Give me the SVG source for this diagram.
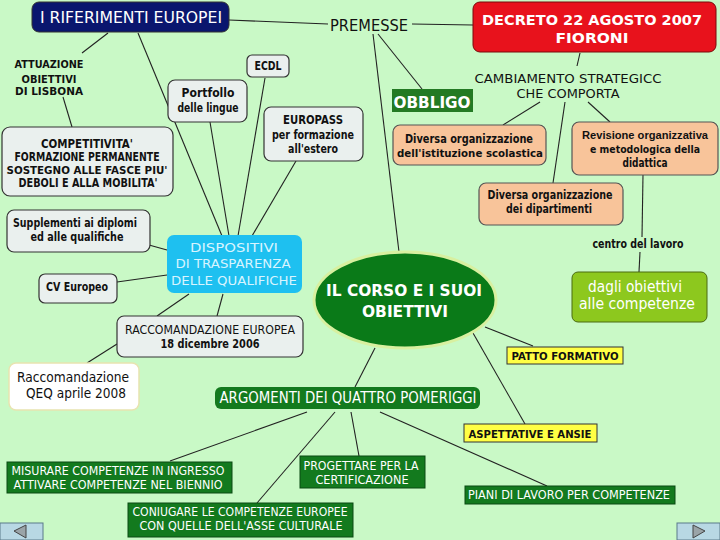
<svg xmlns="http://www.w3.org/2000/svg" width="720" height="540" viewBox="0 0 720 540">
<style>
text{font-family:"DejaVu Sans","Liberation Sans",sans-serif;text-anchor:middle}
.b{font-weight:bold}
.lt{fill:#eaf0ee;stroke:#333;stroke-width:1.2}
.pe{fill:#f8c49a;stroke:#555;stroke-width:1.2}
.gr{fill:#137a1e;stroke:#0a4a12;stroke-width:1}
.ye{fill:#ffff44;stroke:#333;stroke-width:1}
.w{fill:#ffffff}
.k{fill:#111}
.nar{font-family:"Liberation Sans",Arial,sans-serif}
#conn line{stroke:#222;stroke-width:1.1}
</style>
<rect width="720" height="540" fill="#c9f9c6"/>
<g id="conn">
<line x1="229" y1="20" x2="328" y2="24"/>
<line x1="412" y1="24" x2="473" y2="25"/>
<line x1="108" y1="33" x2="82" y2="53"/>
<line x1="63" y1="97" x2="72" y2="127"/>
<line x1="138" y1="33" x2="222" y2="236"/>
<line x1="210" y1="122" x2="229" y2="236"/>
<line x1="265" y1="78" x2="238" y2="236"/>
<line x1="296" y1="161" x2="252" y2="236"/>
<line x1="149" y1="245" x2="167" y2="250"/>
<line x1="117" y1="282" x2="167" y2="275"/>
<line x1="189" y1="294" x2="157" y2="316"/>
<line x1="223" y1="294" x2="217" y2="316"/>
<line x1="117" y1="344" x2="87" y2="363"/>
<line x1="378" y1="34" x2="422" y2="89"/>
<line x1="373" y1="34" x2="399" y2="252"/>
<line x1="580" y1="53" x2="577" y2="66"/>
<line x1="540" y1="102" x2="503" y2="125"/>
<line x1="565" y1="102" x2="553" y2="183"/>
<line x1="588" y1="102" x2="610" y2="122"/>
<line x1="643" y1="175" x2="642" y2="237"/>
<line x1="640" y1="252" x2="639" y2="272"/>
<line x1="485" y1="327" x2="533" y2="346"/>
<line x1="473" y1="333" x2="525" y2="424"/>
<line x1="375" y1="348" x2="355" y2="387"/>
<line x1="307" y1="412" x2="170" y2="461"/>
<line x1="335" y1="412" x2="257" y2="503"/>
<line x1="351" y1="412" x2="359" y2="456"/>
<line x1="380" y1="412" x2="547" y2="486"/>
</g>
<g id="riferimenti">
<rect x="32" y="2" width="197" height="30" rx="7" fill="#0a166e" stroke="#333"/>
<text x="131" y="23" font-size="16" class="w" textLength="182" lengthAdjust="spacingAndGlyphs">I RIFERIMENTI EUROPEI</text>
</g>
<g id="premesse">
<text x="369" y="31" font-size="16" class="k" textLength="78" lengthAdjust="spacingAndGlyphs">PREMESSE</text>
</g>
<g id="decreto">
<rect x="473" y="2" width="243" height="50" rx="7" fill="#e8121c" stroke="#7a0a0a"/>
<text x="592" y="25" font-size="14" class="w b" textLength="220" lengthAdjust="spacingAndGlyphs">DECRETO 22 AGOSTO 2007</text>
<text x="592" y="43" font-size="14" class="w b" textLength="73" lengthAdjust="spacingAndGlyphs">FIORONI</text>
</g>
<g id="attuazione">
<text x="49" y="68" font-size="11" class="k b" textLength="69" lengthAdjust="spacingAndGlyphs">ATTUAZIONE</text>
<text x="49" y="83" font-size="11" class="k b" textLength="55" lengthAdjust="spacingAndGlyphs">OBIETTIVI</text>
<text x="49" y="95" font-size="11" class="k b" textLength="68" lengthAdjust="spacingAndGlyphs">DI LISBONA</text>
</g>
<g id="ecdl">
<rect x="247" y="55" width="42" height="22" rx="5" class="lt"/>
<text x="268" y="70" font-size="12" class="k b" textLength="27" lengthAdjust="spacingAndGlyphs">ECDL</text>
</g>
<g id="portfollo">
<rect x="168" y="80" width="79" height="42" rx="7" class="lt"/>
<text x="208" y="97" font-size="12" class="k b" textLength="53" lengthAdjust="spacingAndGlyphs">Portfollo</text>
<text x="208" y="112" font-size="12" class="k b" textLength="61" lengthAdjust="spacingAndGlyphs">delle lingue</text>
</g>
<g id="europass">
<rect x="264" y="107" width="99" height="54" rx="7" class="lt"/>
<text x="313" y="124" font-size="12" class="k b" textLength="60" lengthAdjust="spacingAndGlyphs">EUROPASS</text>
<text x="313" y="139" font-size="12" class="k b" textLength="82" lengthAdjust="spacingAndGlyphs">per formazione</text>
<text x="313" y="153" font-size="12" class="k b" textLength="50" lengthAdjust="spacingAndGlyphs">all'estero</text>
</g>
<g id="competitivita">
<rect x="2" y="127" width="171" height="69" rx="8" class="lt"/>
<text x="87" y="148" font-size="12" class="k b" textLength="92" lengthAdjust="spacingAndGlyphs">COMPETITIVITA'</text>
<text x="87" y="161" font-size="12" class="k b" textLength="145" lengthAdjust="spacingAndGlyphs">FORMAZIONE PERMANENTE</text>
<text x="87" y="174" font-size="11" class="k b" textLength="161" lengthAdjust="spacingAndGlyphs">SOSTEGNO ALLE FASCE PIU'</text>
<text x="88" y="187" font-size="12" class="k b" textLength="139" lengthAdjust="spacingAndGlyphs">DEBOLI E ALLA MOBILITA'</text>
</g>
<g id="supplementi">
<rect x="7" y="210" width="143" height="42" rx="7" class="lt"/>
<text x="75" y="227" font-size="12" class="k b" textLength="124" lengthAdjust="spacingAndGlyphs">Supplementi ai diplomi</text>
<text x="77" y="241" font-size="12" class="k b" textLength="93" lengthAdjust="spacingAndGlyphs">ed alle qualifiche</text>
</g>
<g id="dispositivi">
<rect x="167" y="235" width="135" height="58" rx="7" fill="#1ec0f0"/>
<text x="234" y="252" font-size="13" fill="#d8f4ff" textLength="88" lengthAdjust="spacingAndGlyphs">DISPOSITIVI</text>
<text x="233" y="268" font-size="13" fill="#d8f4ff" textLength="115" lengthAdjust="spacingAndGlyphs">DI TRASPARENZA</text>
<text x="234" y="285" font-size="13" fill="#d8f4ff" textLength="126" lengthAdjust="spacingAndGlyphs">DELLE QUALIFICHE</text>
</g>
<g id="cv">
<rect x="39" y="274" width="78" height="29" rx="6" class="lt"/>
<text x="77" y="291" font-size="12" class="k b" textLength="62" lengthAdjust="spacingAndGlyphs">CV Europeo</text>
</g>
<g id="raccEU">
<rect x="117" y="316" width="186" height="41" rx="7" class="lt"/>
<text x="210" y="334" font-size="12" class="k" textLength="170" lengthAdjust="spacingAndGlyphs">RACCOMANDAZIONE EUROPEA</text>
<text x="210" y="348" font-size="12" class="k b" textLength="99" lengthAdjust="spacingAndGlyphs">18 dicembre 2006</text>
</g>
<g id="qeq">
<rect x="9" y="363" width="130" height="47" rx="7" fill="#fff" stroke="#e8e4b0" stroke-width="1.5"/>
<text x="73" y="382" font-size="14" class="k" textLength="112" lengthAdjust="spacingAndGlyphs">Raccomandazione</text>
<text x="76" y="398" font-size="14" class="k" textLength="100" lengthAdjust="spacingAndGlyphs">QEQ aprile 2008</text>
</g>
<g id="corso">
<ellipse cx="405" cy="300" rx="91" ry="48" fill="#0a7a18" stroke="#d8f0a0" stroke-width="3"/>
<text x="404" y="296" font-size="16" class="w b" textLength="156" lengthAdjust="spacingAndGlyphs">IL CORSO E I SUOI</text>
<text x="405" y="317" font-size="16" class="w b" textLength="86" lengthAdjust="spacingAndGlyphs">OBIETTIVI</text>
</g>
<g id="obbligo">
<rect x="392" y="89" width="81" height="23" fill="#237a23"/>
<text x="432" y="108" font-size="16" class="w b" textLength="77" lengthAdjust="spacingAndGlyphs">OBBLIGO</text>
</g>
<g id="cambiamento">
<text x="568" y="83" font-size="13" class="k" textLength="187" lengthAdjust="spacingAndGlyphs">CAMBIAMENTO STRATEGICC</text>
<text x="568" y="98" font-size="13" class="k" textLength="103" lengthAdjust="spacingAndGlyphs">CHE COMPORTA</text>
</g>
<g id="diversaIst">
<rect x="393" y="125" width="153" height="40" rx="7" class="pe"/>
<text x="469" y="143" font-size="12" class="k b" textLength="128" lengthAdjust="spacingAndGlyphs">Diversa organizzazione</text>
<text x="470" y="157" font-size="11" class="k b" textLength="146" lengthAdjust="spacingAndGlyphs">dell'istituzione scolastica</text>
</g>
<g id="revisione">
<rect x="572" y="122" width="146" height="53" rx="7" class="pe"/>
<text x="645" y="139" font-size="11" class="k b nar" textLength="126" lengthAdjust="spacingAndGlyphs">Revisione organizzativa</text>
<text x="645" y="153" font-size="11" class="k b" textLength="110" lengthAdjust="spacingAndGlyphs">e metodologica della</text>
<text x="645" y="167" font-size="12" class="k b" textLength="45" lengthAdjust="spacingAndGlyphs">didattica</text>
</g>
<g id="diversaDip">
<rect x="479" y="183" width="144" height="42" rx="7" class="pe"/>
<text x="550" y="199" font-size="12" class="k b" textLength="125" lengthAdjust="spacingAndGlyphs">Diversa organizzazione</text>
<text x="549" y="213" font-size="12" class="k b" textLength="86" lengthAdjust="spacingAndGlyphs">dei dipartimenti</text>
</g>
<g id="centro">
<text x="638" y="248" font-size="12" class="k b" textLength="91" lengthAdjust="spacingAndGlyphs">centro del lavoro</text>
</g>
<g id="dagli">
<rect x="572" y="272" width="135" height="50" rx="6" fill="#8dc81e" stroke="#4a6a10"/>
<text x="635" y="292" font-size="15" class="w" textLength="94" lengthAdjust="spacingAndGlyphs">dagli obiettivi</text>
<text x="637" y="309" font-size="15" class="w" textLength="116" lengthAdjust="spacingAndGlyphs">alle competenze</text>
</g>
<g id="patto">
<rect x="507" y="347" width="116" height="17" class="ye"/>
<text x="565" y="360" font-size="11" class="k b" textLength="107" lengthAdjust="spacingAndGlyphs">PATTO FORMATIVO</text>
</g>
<g id="argomenti">
<rect x="215" y="387" width="265" height="22" rx="6" fill="#137a1e"/>
<text x="348" y="403" font-size="15" class="w" textLength="257" lengthAdjust="spacingAndGlyphs">ARGOMENTI DEI QUATTRO POMERIGGI</text>
</g>
<g id="aspettative">
<rect x="464" y="424" width="133" height="18" class="ye"/>
<text x="530" y="438" font-size="11" class="k b" textLength="123" lengthAdjust="spacingAndGlyphs">ASPETTATIVE E ANSIE</text>
</g>
<g id="misurare">
<rect x="7" y="462" width="225" height="31" class="gr"/>
<text x="118" y="475" font-size="12" class="w" textLength="213" lengthAdjust="spacingAndGlyphs">MISURARE COMPETENZE IN INGRESSO</text>
<text x="118" y="489" font-size="12" class="w" textLength="209" lengthAdjust="spacingAndGlyphs">ATTIVARE COMPETENZE NEL BIENNIO</text>
</g>
<g id="progettare">
<rect x="300" y="456" width="125" height="32" class="gr"/>
<text x="361" y="470" font-size="12" class="w" textLength="115" lengthAdjust="spacingAndGlyphs">PROGETTARE PER LA</text>
<text x="362" y="484" font-size="12" class="w" textLength="93" lengthAdjust="spacingAndGlyphs">CERTIFICAZIONE</text>
</g>
<g id="piani">
<rect x="465" y="486" width="210" height="18" class="gr"/>
<text x="569" y="499" font-size="12" class="w" textLength="202" lengthAdjust="spacingAndGlyphs">PIANI DI LAVORO PER COMPETENZE</text>
</g>
<g id="coniugare">
<rect x="128" y="503" width="225" height="34" class="gr"/>
<text x="240" y="516" font-size="12" class="w" textLength="215" lengthAdjust="spacingAndGlyphs">CONIUGARE LE COMPETENZE EUROPEE</text>
<text x="241" y="530" font-size="12" class="w" textLength="203" lengthAdjust="spacingAndGlyphs">CON QUELLE DELL'ASSE CULTURALE</text>
</g>
<g id="navPrev">
<rect x="0" y="523" width="43" height="17" fill="#b8d8e4" stroke="#5a7a8a"/>
<polygon points="14,531 26,525 26,538" fill="#9aa4a8" stroke="#444"/>
</g>
<g id="navNext">
<rect x="677" y="523" width="43" height="17" fill="#b8d8e4" stroke="#5a7a8a"/>
<polygon points="705,531 693,525 693,538" fill="#9aa4a8" stroke="#444"/>
</g>
</svg>
